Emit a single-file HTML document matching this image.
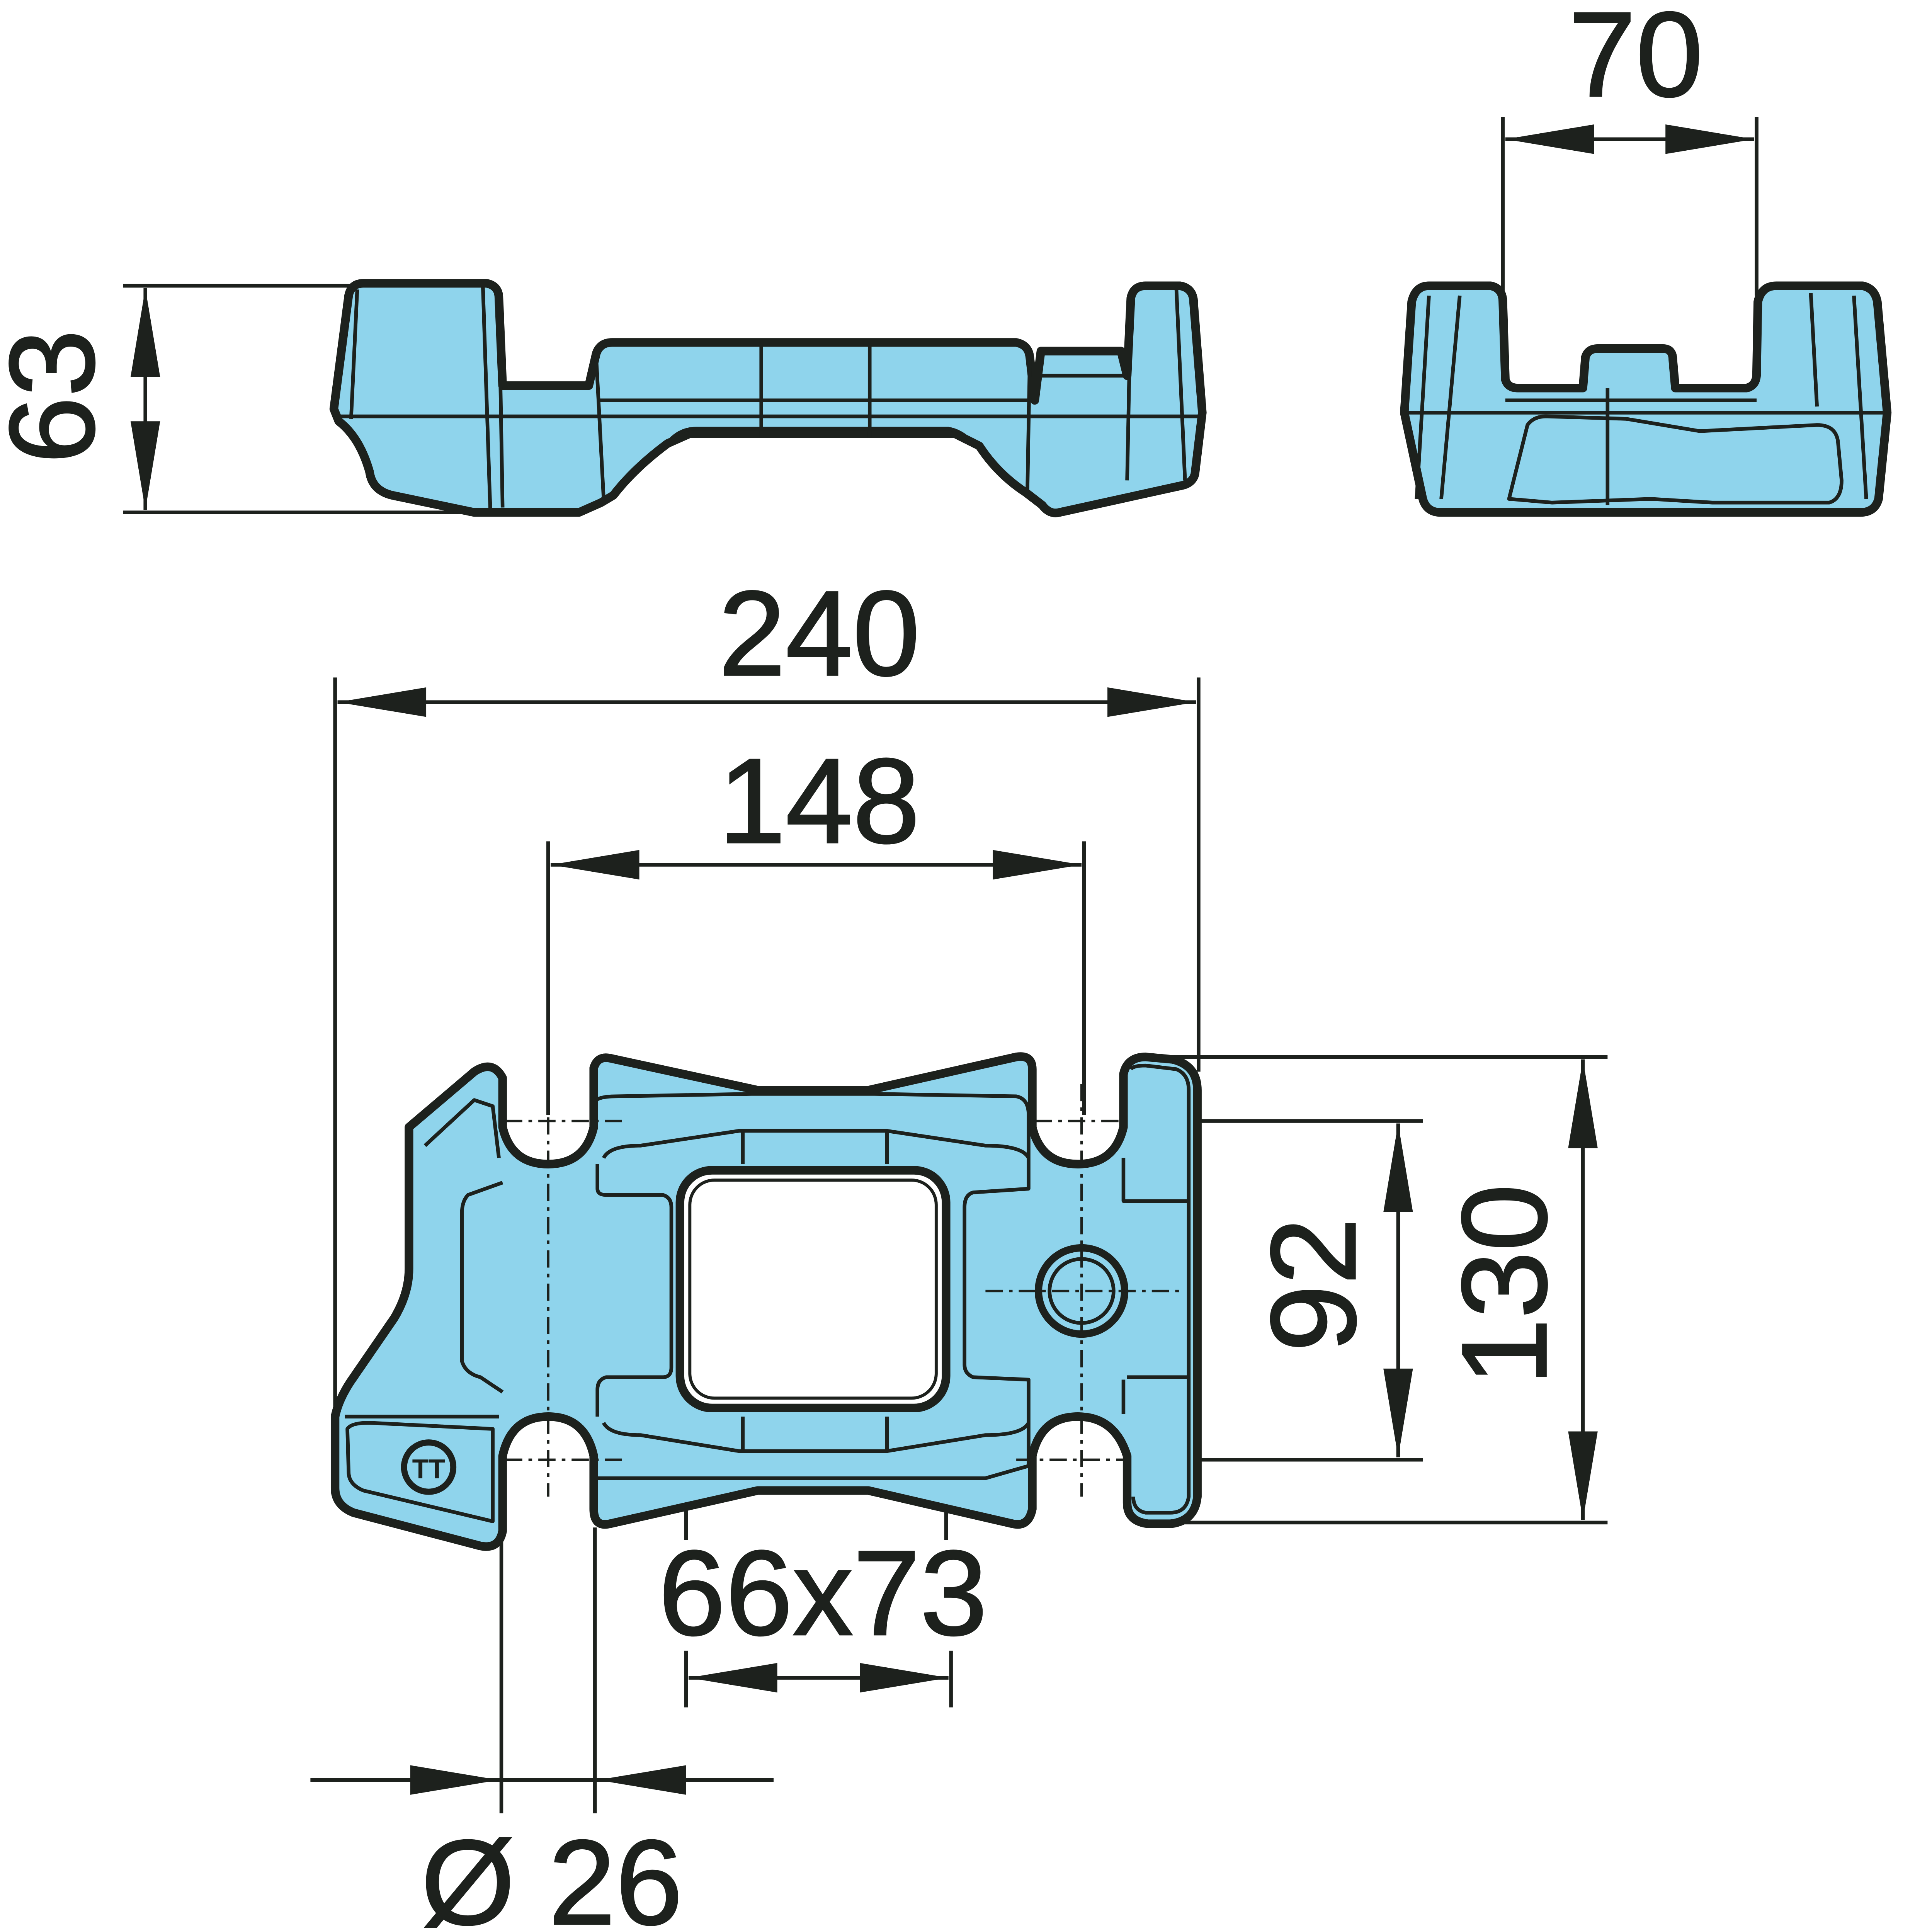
<!DOCTYPE html>
<html><head><meta charset="utf-8"><style>
html,body{margin:0;padding:0;background:#fff;overflow:hidden;}
svg{display:block;}
text{font-family:"Liberation Sans",sans-serif;fill:#1d211d;stroke:#1d211d;stroke-width:1.2px;font-size:98px;}
</style></head><body>
<svg width="4898" height="4996" xmlns="http://www.w3.org/2000/svg">
<g transform="scale(3.188)">
<g stroke="#1d211d" fill="none" stroke-width="3">
<line x1="100" y1="232" x2="290" y2="232"/><line x1="100" y1="416" x2="390" y2="416"/>
<line x1="118" y1="234" x2="118" y2="414"/>
<line x1="1220" y1="95" x2="1220" y2="240"/><line x1="1426" y1="95" x2="1426" y2="240"/>
<line x1="1222" y1="113" x2="1424" y2="113"/>
<line x1="272" y1="550" x2="272" y2="1150"/><line x1="973" y1="550" x2="973" y2="870"/>
<line x1="274" y1="570" x2="971" y2="570"/>
<line x1="445" y1="683" x2="445" y2="905"/><line x1="880" y1="683" x2="880" y2="905"/>
<line x1="447" y1="702" x2="878" y2="702"/>
<line x1="935" y1="858" x2="1305" y2="858"/><line x1="935" y1="1236" x2="1305" y2="1236"/>
<line x1="1285" y1="860" x2="1285" y2="1234"/>
<line x1="912" y1="910" x2="1155" y2="910"/><line x1="912" y1="1185" x2="1155" y2="1185"/>
<line x1="1135" y1="912" x2="1135" y2="1183"/>
<line x1="557" y1="1143" x2="557" y2="1250"/><line x1="768" y1="1143" x2="768" y2="1250"/>
<line x1="557" y1="1340" x2="557" y2="1386"/><line x1="772" y1="1340" x2="772" y2="1386"/>
<line x1="559" y1="1362" x2="770" y2="1362"/>
<line x1="407" y1="1240" x2="407" y2="1472"/><line x1="483" y1="1240" x2="483" y2="1472"/>
<line x1="252" y1="1445" x2="628" y2="1445"/>
</g>
<g fill="#1d211d">
<polygon points="118,234 106,306 130,306"/><polygon points="118,414 106,342 130,342"/>
<polygon points="1222,113 1294,101 1294,125"/><polygon points="1424,113 1352,101 1352,125"/>
<polygon points="274,570 346,558 346,582"/><polygon points="971,570 899,558 899,582"/>
<polygon points="447,702 519,690 519,714"/><polygon points="878,702 806,690 806,714"/>
<polygon points="1285,860 1273,932 1297,932"/><polygon points="1285,1234 1273,1162 1297,1162"/>
<polygon points="1135,912 1123,984 1147,984"/><polygon points="1135,1183 1123,1111 1147,1111"/>
<polygon points="559,1362 631,1350 631,1374"/><polygon points="770,1362 698,1350 698,1374"/>
<polygon points="405,1445 333,1433 333,1457"/><polygon points="485,1445 557,1433 557,1457"/>
</g>

<g stroke="#1d211d" stroke-linejoin="round">
<path fill="#8fd4ec" stroke-width="7" d="M283,240 Q285,230 295,230 L395,230 Q405,232 405,242 L408,313 L478,313 L484,287 Q487,278 497,278 L825,278 Q835,280 836,290 L840,325 L845,285 L910,285 L915,305 L918,242 Q920,232 930,232 L958,232 Q969,234 969,246 L976,335 L970,385 Q968,392 960,394 L860,416 Q852,418 846,410 L833,400 Q810,385 795,362 L775,352 L560,352 L542,360 Q515,380 498,402 L488,408 L470,416 L385,416 L318,402 Q302,398 300,383 Q292,355 275,342 L271,332 Z"/>
<g fill="none" stroke-width="3">
<line x1="272" y1="338" x2="976" y2="338"/>
<line x1="485" y1="325" x2="838" y2="325"/>
<line x1="405" y1="240" x2="408" y2="412"/><line x1="392" y1="232" x2="398" y2="414"/>
<line x1="484" y1="290" x2="490" y2="404"/><line x1="836" y1="290" x2="834" y2="400"/>
<line x1="618" y1="280" x2="618" y2="355"/><line x1="706" y1="280" x2="706" y2="355"/>
<line x1="918" y1="242" x2="915" y2="390"/><line x1="955" y1="235" x2="962" y2="390"/>
<line x1="845" y1="305" x2="915" y2="305"/>
<line x1="290" y1="235" x2="285" y2="340"/>
<path d="M540,362 Q550,348 565,348 L770,348 Q782,350 792,362"/>
</g>
</g>

<g stroke="#1d211d" stroke-linejoin="round">
<path fill="#8fd4ec" stroke-width="7" d="M1146,245 Q1149,232 1160,232 L1210,232 Q1220,234 1220,245 L1222,308 Q1224,315 1232,315 L1285,315 L1287,290 Q1289,283 1297,283 L1350,283 Q1358,283 1358,292 L1360,315 L1418,315 Q1426,313 1426,303 L1427,245 Q1430,232 1442,232 L1512,232 Q1522,234 1524,245 L1532,335 L1525,405 Q1522,416 1510,416 L1170,416 Q1158,416 1155,405 L1140,335 Z"/>
<g fill="none" stroke-width="3">
<line x1="1142" y1="335" x2="1530" y2="335"/>
<line x1="1222" y1="325" x2="1426" y2="325"/>
<path d="M1225,405 L1240,345 Q1245,338 1255,338 L1320,340 L1380,350 L1475,345 Q1490,345 1492,358 L1495,390 Q1495,405 1485,408 L1390,408 L1340,405 L1260,408 Z"/>
<line x1="1160" y1="240" x2="1150" y2="405"/><line x1="1185" y1="240" x2="1170" y2="405"/>
<line x1="1505" y1="240" x2="1515" y2="405"/><line x1="1470" y1="238" x2="1475" y2="330"/>
<line x1="1305" y1="315" x2="1305" y2="410"/>
</g>
</g>

<g stroke="#1d211d" stroke-linejoin="round">
<path fill="#8fd4ec" stroke-width="7" d="M332,915 L385,870 Q400,860 408,875 L408,915 Q415,945 445,945 Q475,945 482,915 L482,867 Q485,857 495,859 L615,885 L705,885 L825,858 Q838,856 838,868 L838,915 Q845,945 875,945 Q905,945 912,915 L912,872 Q915,858 930,858 L952,860 Q972,865 972,885 L972,1215 Q970,1235 950,1237 L932,1237 Q915,1235 915,1220 L915,1182 Q905,1150 875,1150 Q845,1150 838,1182 L838,1225 Q835,1240 822,1237 L705,1210 L615,1210 L495,1237 Q482,1240 482,1225 L482,1182 Q475,1150 445,1150 Q415,1150 408,1182 L408,1243 Q405,1258 390,1255 L287,1228 Q272,1222 272,1208 L272,1150 Q275,1135 287,1118 L320,1070 Q332,1050 332,1030 Z"/>
<g fill="none" stroke-width="3">
<path d="M345,930 L385,893 L400,898 L405,940"/>
<path d="M408,960 L380,970 Q375,975 375,985 L375,1105 Q378,1115 390,1118 L408,1130"/>
<path d="M280,1150 L405,1150 M282,1160 Q285,1155 300,1155 L400,1160 L400,1235 L295,1210 Q283,1205 283,1195 Z"/>
<path d="M482,895 Q485,890 500,890 L610,888 L710,888 L825,890 Q835,892 835,905 L835,965 L790,968 Q783,970 783,980 L783,1108 Q783,1115 790,1118 L835,1120 L835,1190 L800,1200 L485,1200"/>
<path d="M485,945 L485,965 Q485,970 492,970 L538,970 Q545,972 545,980 L545,1110 Q545,1118 538,1118 L492,1118 Q485,1120 485,1128 L485,1150"/>
<path d="M490,940 Q495,930 520,930 L600,918 L720,918 L800,930 Q830,930 835,940"/>
<path d="M490,1155 Q495,1165 520,1165 L600,1178 L720,1178 L800,1165 Q830,1165 835,1155"/>
<line x1="603" y1="918" x2="603" y2="945"/><line x1="720" y1="918" x2="720" y2="945"/>
<line x1="603" y1="1150" x2="603" y2="1178"/><line x1="720" y1="1150" x2="720" y2="1178"/>
<path d="M918,868 Q920,865 930,865 L955,868 Q965,872 965,885 L965,1215 Q963,1228 950,1228 L930,1228 Q920,1226 920,1215"/>
<path d="M912,940 L912,975 L965,975 M912,1120 L912,1148 M915,1118 L965,1118"/>
</g>
<rect x="552" y="950" width="216" height="193" rx="26" fill="#fff" stroke-width="7"/>
<rect x="560" y="958" width="200" height="177" rx="20" fill="none" stroke-width="2.5"/>
<circle cx="878" cy="1048" r="35" fill="#8fd4ec" stroke-width="6"/>
<circle cx="878" cy="1048" r="26" fill="none" stroke-width="3"/>
<circle cx="348" cy="1191" r="20" fill="none" stroke-width="5"/>
<text x="348" y="1200" text-anchor="middle" style="font-size:22px;font-weight:bold;stroke-width:0">TT</text>
</g>
<g stroke="#1d211d" stroke-width="2" stroke-dasharray="14,5,3,5" fill="none">
<line x1="445" y1="880" x2="445" y2="1215"/><line x1="878" y1="880" x2="878" y2="1215"/>
<line x1="410" y1="910" x2="505" y2="910"/><line x1="840" y1="910" x2="912" y2="910"/>
<line x1="410" y1="1185" x2="505" y2="1185"/><line x1="825" y1="1185" x2="912" y2="1185"/>
<line x1="800" y1="1048" x2="962" y2="1048"/>
</g>

<text x="1328" y="78" text-anchor="middle">70</text>
<text x="665" y="548" text-anchor="middle">240</text>
<text x="665" y="684" text-anchor="middle">148</text>
<text x="668" y="1327" text-anchor="middle">66x73</text>
<text x="448" y="1562" text-anchor="middle">Ø 26</text>
<text transform="translate(76,322) rotate(-90)" text-anchor="middle">63</text>
<text transform="translate(1100,1043) rotate(-90)" text-anchor="middle">92</text>
<text transform="translate(1255,1043) rotate(-90)" text-anchor="middle">130</text>
</g>
</svg>
</body></html>
